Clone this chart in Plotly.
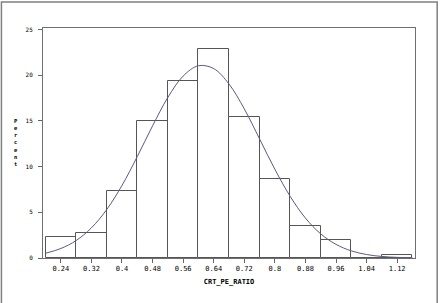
import plotly.graph_objects as go

# Histogram data (bin midpoints and percent)
bin_mid = [0.24, 0.32, 0.40, 0.48, 0.56, 0.64, 0.72, 0.80, 0.88, 0.96, 1.04, 1.12]
percent = [2.3, 2.75, 7.3, 15.0, 19.35, 22.85, 15.4, 8.65, 3.5, 2.0, 0.0, 0.35]
tick_labels = ["0.24", "0.32", "0.4", "0.48", "0.56", "0.64", "0.72", "0.8", "0.88", "0.96", "1.04", "1.12"]

# Fitted normal curve (percent scale)
curve_x = [0.20, 0.24, 0.28, 0.32, 0.36, 0.40, 0.44, 0.48, 0.52, 0.56, 0.60, 0.64,
           0.68, 0.72, 0.76, 0.80, 0.84, 0.88, 0.92, 0.96, 1.00, 1.04, 1.08, 1.12, 1.16]
curve_y = [0.52, 1.04, 1.91, 3.30, 5.30, 7.94, 11.10, 14.46, 17.57, 19.91, 21.04, 20.73,
           19.04, 16.32, 13.03, 9.71, 6.75, 4.37, 2.64, 1.49, 0.78, 0.38, 0.17, 0.07, 0.03]

y_ticks = [0, 5, 10, 15, 20, 25]

fig = go.Figure()
fig.add_trace(go.Bar(
    x=bin_mid, y=percent, width=0.08,
    marker=dict(color="white", line=dict(color="#555555", width=1)),
    hoverinfo="x+y",
))
fig.add_trace(go.Scatter(
    x=curve_x, y=curve_y, mode="lines",
    line=dict(color="#5a5a80", width=1, shape="spline"),
))

axis_font = dict(family="DejaVu Sans Mono", size=7, color="black")

fig.update_layout(
    width=441, height=303,
    margin=dict(l=43.3, r=25.5, t=27.7, b=44.7),
    paper_bgcolor="white", plot_bgcolor="white",
    showlegend=False,
    bargap=0,
    xaxis=dict(
        range=[0.1933, 1.1667],
        tickvals=bin_mid, ticktext=tick_labels,
        ticks="outside", ticklen=4, tickcolor="#666666", tickwidth=1,
        showline=True, linecolor="#707070", linewidth=1, mirror=True,
        showgrid=False, zeroline=False,
        tickfont=dict(family="DejaVu Sans Mono", size=7, color="black"),
        title=dict(text="<b>CRT_PE_RATIO</b>", font=dict(family="DejaVu Sans Mono", size=7, color="black"), standoff=6),
    ),
    yaxis=dict(
        range=[0, 25.17],
        tickvals=y_ticks,
        ticks="outside", ticklen=4, tickcolor="#666666", tickwidth=1,
        showline=True, linecolor="#707070", linewidth=1, mirror=True,
        showgrid=False, zeroline=False,
        tickfont=dict(family="DejaVu Sans Mono", size=6, color="black"),
        ticklabelstandoff=4,
    ),
    annotations=[dict(
        text="<b>P<br>e<br>r<br>c<br>e<br>n<br>t</b>",
        xref="paper", yref="paper",
        x=(16.5 - 43.3) / 372.2, y=(258.3 - 143) / 230.6,
        xanchor="center", yanchor="middle",
        showarrow=False,
        font=dict(family="DejaVu Sans Mono", size=5.5, color="black"),
    )],
    shapes=[dict(
        type="rect", xref="paper", yref="paper",
        x0=(1.7 - 43.3) / 372.2, x1=(437.7 - 43.3) / 372.2,
        y0=-0.3, y1=1 + (27.7 - 1.7) / 230.6,
        line=dict(color="#808080", width=1.5),
        fillcolor="rgba(0,0,0,0)",
    )],
)
fig.update_xaxes(tickprefix="<b>", ticksuffix="</b>")
fig.update_yaxes(tickprefix="<b>", ticksuffix="</b>")

fig.write_html("out.html")
